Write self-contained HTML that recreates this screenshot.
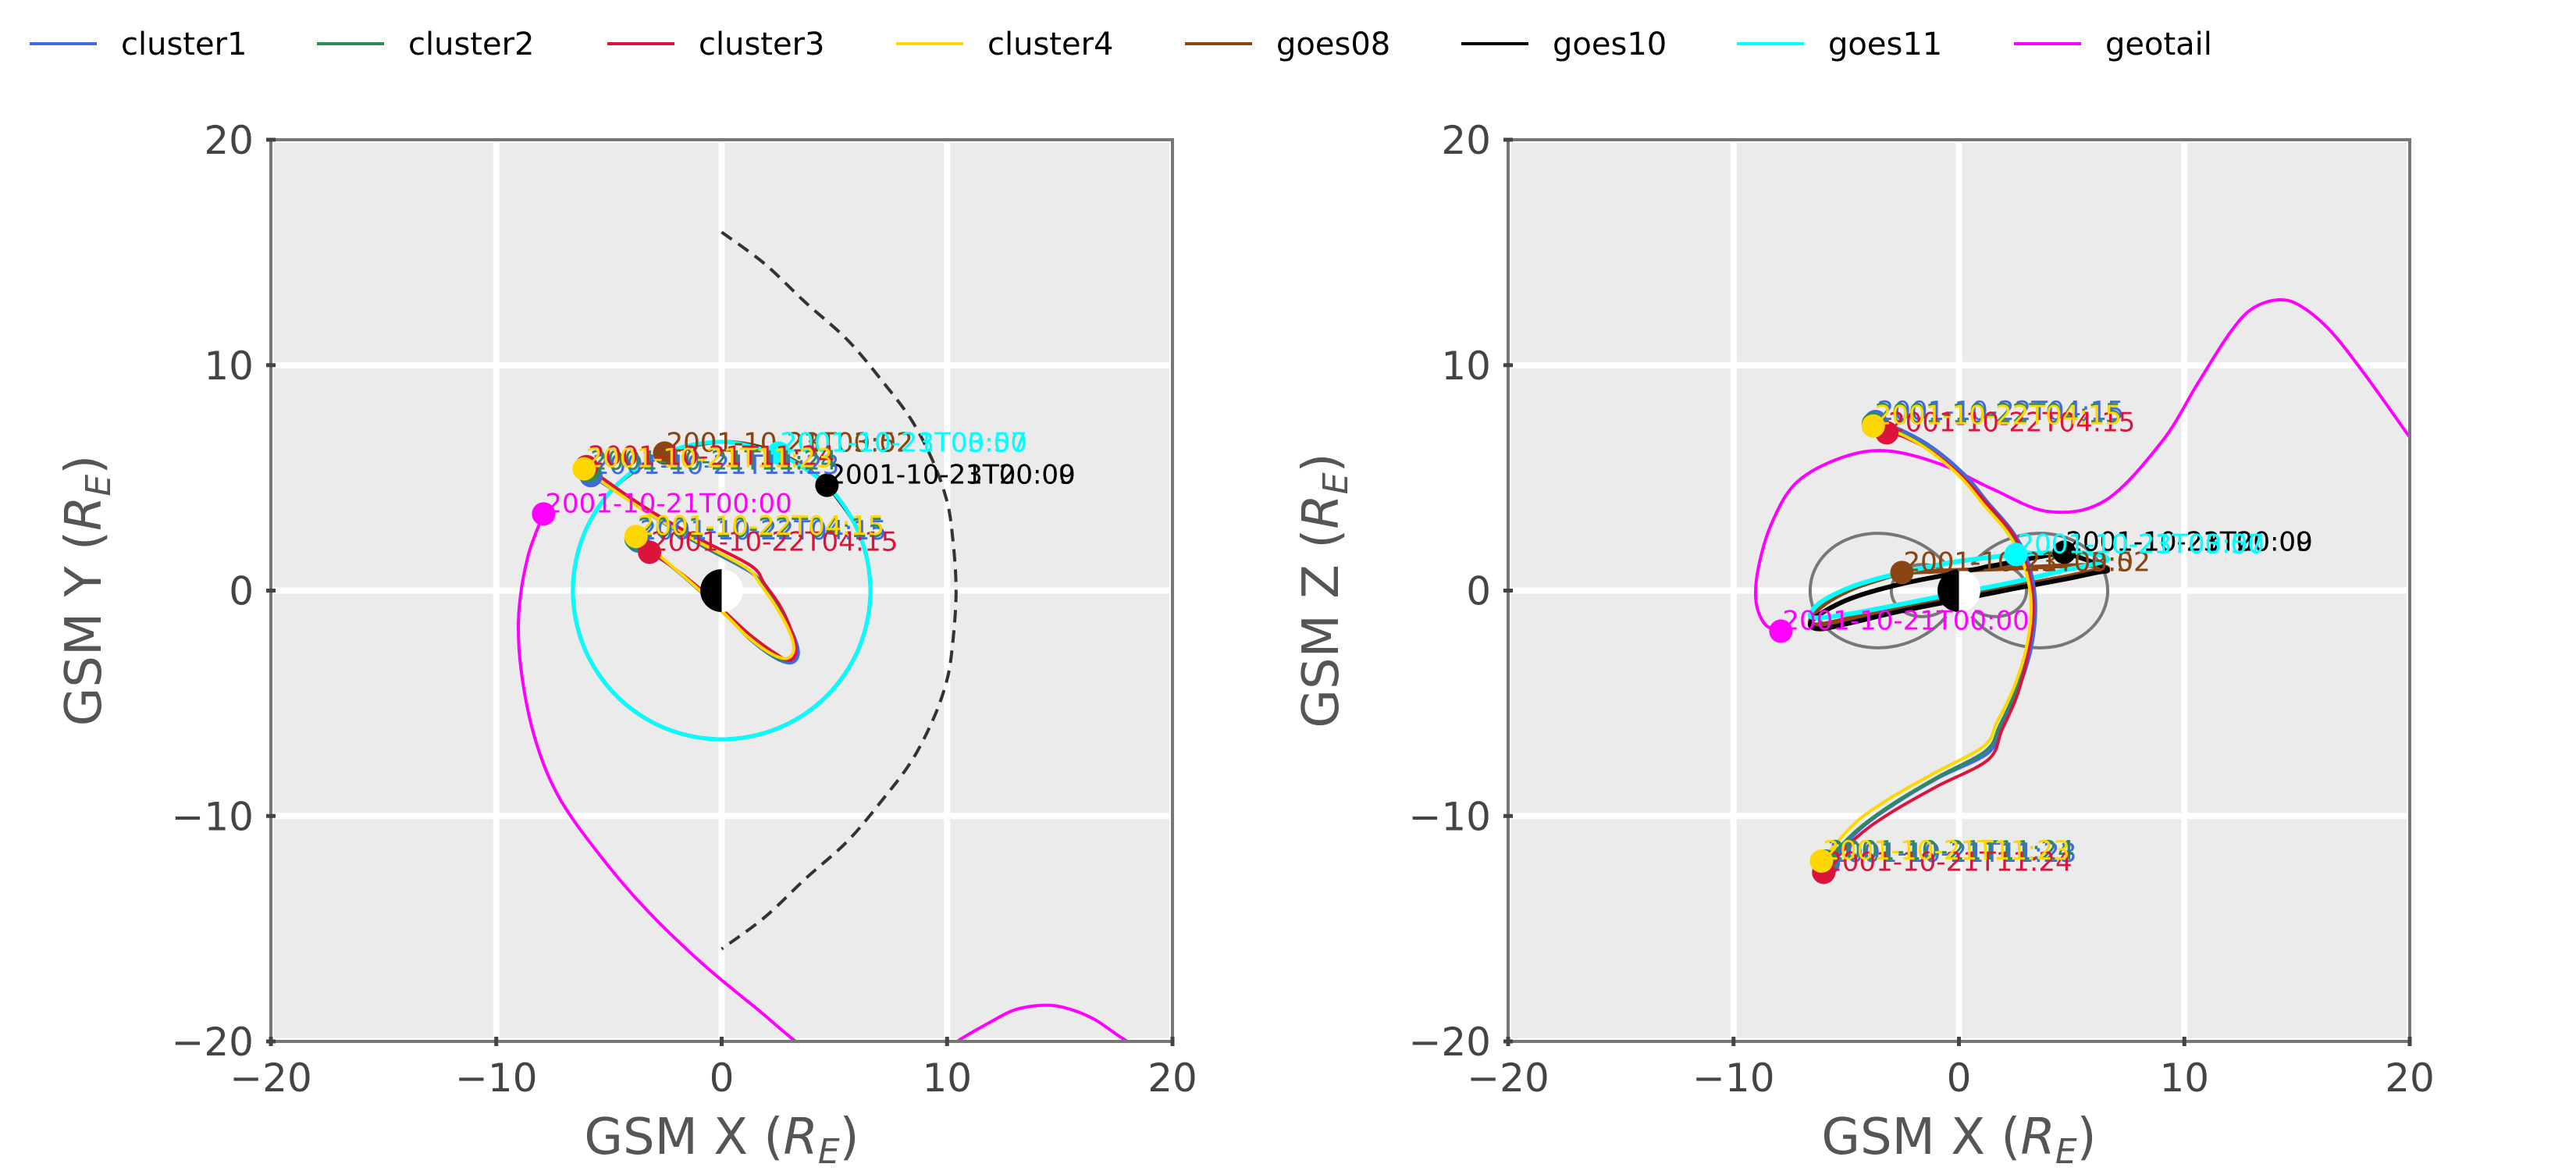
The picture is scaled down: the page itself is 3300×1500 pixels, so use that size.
<!DOCTYPE html>
<html><head><meta charset="utf-8"><style>
html,body{margin:0;padding:0;background:#fff}
svg{display:block}
text{font-family:"DejaVu Sans","Liberation Sans",sans-serif}
</style></head><body>
<svg id="fig" width="3300" height="1500" viewBox="0 0 3300 1500" xmlns="http://www.w3.org/2000/svg"></svg>
<script>
// ---- data (GSM coordinates, Earth radii) ----
const seriesNames = ["cluster1","cluster2","cluster3","cluster4","goes08","goes10","goes11","geotail"];
const seriesColors = ["#4169e1","#2e8b57","#dc143c","#ffd700","#8b4513","#000000","#00ffff","#ff00ff"];
const cluster1X = [-5.8,-4.4,-2.9,-0.9,1.3,1.9,2.6,3.2,3.4,3.1,2.4,1.3,0.3,-1.1,-2.5,-3.7];
const cluster1Y = [5.1,4.2,3.2,2.0,0.8,0.1,-0.9,-2.0,-2.8,-3.2,-3.0,-2.2,-1.2,0.1,1.3,2.2];
const cluster1Z = [-12.1,-10.6,-9.5,-8.3,-7.2,-6.0,-4.5,-2.6,-0.6,1.2,2.6,3.9,5.1,6.3,7.1,7.5];
const cluster2X = [-5.9,-4.5,-3.0,-1.0,1.2,1.8,2.5,3.1,3.3,3.0,2.3,1.2,0.2,-1.2,-2.6,-3.8];
const cluster2Y = [5.3,4.3,3.3,2.1,0.9,0.2,-0.8,-1.9,-2.7,-3.1,-2.9,-2.1,-1.1,0.2,1.4,2.3];
const cluster2Z = [-12.0,-10.6,-9.5,-8.3,-7.1,-6.0,-4.5,-2.6,-0.6,1.2,2.5,3.8,5.0,6.2,7.0,7.4];
const cluster3X = [-6.0,-4.6,-3.1,-1.0,1.3,1.9,2.6,3.1,3.3,3.0,2.4,1.3,0.2,-1.1,-2.4,-3.2];
const cluster3Y = [5.5,4.5,3.5,2.3,1.1,0.3,-0.7,-1.8,-2.7,-3.1,-2.8,-2.0,-1.0,0.2,1.2,1.7];
const cluster3Z = [-12.5,-11.0,-9.9,-8.7,-7.5,-6.2,-4.6,-2.6,-0.6,1.2,2.5,3.8,5.0,6.1,6.8,7.0];
const cluster4X = [-6.1,-4.7,-3.2,-1.1,1.1,1.7,2.4,3.0,3.2,2.9,2.2,1.1,0.1,-1.3,-2.7,-3.8];
const cluster4Y = [5.4,4.4,3.4,2.2,1.0,0.3,-0.7,-1.8,-2.6,-3.0,-2.8,-2.0,-1.0,0.3,1.5,2.4];
const cluster4Z = [-12.0,-10.4,-9.3,-8.1,-6.9,-5.8,-4.4,-2.5,-0.6,1.1,2.5,3.8,5.0,6.2,7.0,7.3];
const goes08X = [-2.53,-4.67,-6.1,-6.6,-6.1,-4.67,-2.53,0,2.53,4.67,6.1,6.6,6.1,4.67,2.53,0,-2.53];
const goes08Y = [6.1,4.67,2.53,0,-2.53,-4.67,-6.1,-6.6,-6.1,-4.67,-2.53,0,2.53,4.67,6.1,6.6,6.1];
const goes08Z = [0.8,0.1,-0.7,-1.4,-1.5,-1.2,-0.8,-0.3,0.2,0.6,0.9,1.0,1.1,1.1,1.0,0.9,0.8];
const goes10X = [4.67,2.53,0,-2.53,-4.67,-6.1,-6.6,-6.1,-4.67,-2.53,0,2.53,4.67,6.1,6.6,6.1,4.67];
const goes10Y = [4.67,6.1,6.6,6.1,4.67,2.53,0,-2.53,-4.67,-6.1,-6.6,-6.1,-4.67,-2.53,0,2.53,4.67];
const goes10Z = [1.7,1.3,0.8,0.3,-0.3,-1.0,-1.5,-1.7,-1.4,-0.9,-0.4,0.1,0.5,0.8,0.9,1.2,1.7];
const goes11X = [2.53,0,-2.53,-4.67,-6.1,-6.6,-6.1,-4.67,-2.53,0,2.53,4.67,6.1,6.6,6.1,4.67,2.53];
const goes11Y = [6.1,6.6,6.1,4.67,2.53,0,-2.53,-4.67,-6.1,-6.6,-6.1,-4.67,-2.53,0,2.53,4.67,6.1];
const goes11Z = [1.6,1.3,0.8,0.2,-0.5,-1.1,-1.2,-1.0,-0.6,-0.1,0.4,0.9,1.2,1.4,1.6,1.7,1.6];
const geotailX = [-7.9,-8.6,-9.0,-8.9,-8.3,-7.2,-5.2,-3.2,-0.8,1.5,4.0,6.5,9.0,10.6,12.0,13.0,14.2,15.2,16.5,18.0,20.0];
const geotailY = [3.4,1.5,-1.0,-3.5,-6.5,-9.2,-12.0,-14.3,-16.6,-18.5,-20.5,-21.5,-21.0,-19.9,-19.1,-18.6,-18.4,-18.5,-19.0,-20.0,-21.0];
const geotailZ = [-1.8,-1.5,-0.5,1.0,3.0,4.8,5.9,6.2,5.6,4.5,3.5,4.0,6.6,9.2,11.4,12.5,12.9,12.6,11.5,9.6,6.8];
const startLabels = ["2001-10-21T11:23","2001-10-21T11:24","2001-10-21T11:24","2001-10-21T11:23","2001-10-21T03:52","2001-10-21T20:09","2001-10-21T03:57","2001-10-21T00:00"];
const endLabels = ["2001-10-22T04:15","2001-10-22T04:15","2001-10-22T04:15","2001-10-22T04:15","2001-10-23T00:02","2001-10-23T00:00","2001-10-23T00:00",""];
const magnetopauseX = [0,1.9,3.7,5.6,7.2,8.4,9.3,9.9,10.2,10.4,10.2,9.9,9.3,8.4,7.2,5.6,3.7,1.9,0];
const magnetopauseY = [15.9,14.5,12.8,11.1,9.2,7.6,5.9,4.3,2.8,0,-2.8,-4.3,-5.9,-7.6,-9.2,-11.1,-12.8,-14.5,-15.9];
const dipoleL = [3.0,6.6];
const tickValues = [-20,-10,0,10,20];
const tickLabels = ["\u221220","\u221210","0","10","20"];

const allX=[cluster1X,cluster2X,cluster3X,cluster4X,goes08X,goes10X,goes11X,geotailX];
const allY=[cluster1Y,cluster2Y,cluster3Y,cluster4Y,goes08Y,goes10Y,goes11Y,geotailY];
const allZ=[cluster1Z,cluster2Z,cluster3Z,cluster4Z,goes08Z,goes10Z,goes11Z,geotailZ];

const NS="http://www.w3.org/2000/svg";
const svg=document.getElementById('fig');
function mk(tag,attrs,parent){const e=document.createElementNS(NS,tag);for(const k in attrs)e.setAttribute(k,attrs[k]);(parent||svg).appendChild(e);return e;}

const AX=[{left:347,name:'xy-panel',ylab:'GSM Y (',yi:1},{left:1932,name:'xz-panel',ylab:'GSM Z (',yi:2}];
const TOP=179,SIZE=1155;
function sx(p,v){return p.left+(v+20)/40*SIZE;}
function sy(v){return TOP+(20-v)/40*SIZE;}
function smooth(pts){
  if(pts.length<2)return '';
  let d='M'+pts[0][0].toFixed(1)+','+pts[0][1].toFixed(1);
  for(let i=0;i<pts.length-1;i++){
    const p0=pts[Math.max(0,i-1)],p1=pts[i],p2=pts[i+1],p3=pts[Math.min(pts.length-1,i+2)];
    const c1=[p1[0]+(p2[0]-p0[0])/6,p1[1]+(p2[1]-p0[1])/6],c2=[p2[0]-(p3[0]-p1[0])/6,p2[1]-(p3[1]-p1[1])/6];
    d+='C'+c1[0].toFixed(1)+','+c1[1].toFixed(1)+' '+c2[0].toFixed(1)+','+c2[1].toFixed(1)+' '+p2[0].toFixed(1)+','+p2[1].toFixed(1);
  }
  return d;
}

// legend
const legX=[38,406,778,1148,1518,1872,2225,2580];
const legend=mk('g',{});


seriesNames.forEach((n,i)=>{
  const g=mk('g',{},legend);
  
  
  mk('line',{x1:legX[i],x2:legX[i]+86,y1:56,y2:56,stroke:seriesColors[i],'stroke-width':4},g);
  const t=mk('text',{x:legX[i]+117,y:70,'font-size':40,fill:'#000'},g);t.textContent=n;
});

const defs=mk('defs',{});
AX.forEach((p,pi)=>{
  const g=mk('g',{});
  
  
  const cp=mk('clipPath',{id:'clip'+pi},defs);
  mk('rect',{x:p.left,y:TOP,width:SIZE,height:SIZE},cp);
  mk('rect',{x:p.left,y:TOP,width:SIZE,height:SIZE,fill:'#ebebeb'},g);
  tickValues.forEach(v=>{
    mk('line',{x1:sx(p,v),x2:sx(p,v),y1:TOP,y2:TOP+SIZE,stroke:'#fff','stroke-width':8},g);
    mk('line',{x1:p.left,x2:p.left+SIZE,y1:sy(v),y2:sy(v),stroke:'#fff','stroke-width':8},g);
  });
  const inner=mk('g',{'clip-path':'url(#clip'+pi+')'},g);
  if(pi===0){
    const pts=magnetopauseX.map((x,i)=>[sx(p,x),sy(magnetopauseY[i])]);
    const mp=mk('path',{d:smooth(pts),fill:'none',stroke:'#333','stroke-width':4,'stroke-dasharray':'16,10'},inner);
    
    
  } else {
    dipoleL.forEach(L=>{
      [1,-1].forEach(side=>{
        const pts=[];
        for(let a=-80;a<=80;a+=4){const r=L*Math.pow(Math.cos(a*Math.PI/180),2);if(r<1)continue;pts.push([sx(p,side*r*Math.cos(a*Math.PI/180)),sy(r*Math.sin(a*Math.PI/180))]);}
        const dp=mk('path',{d:smooth(pts),fill:'none',stroke:'#777','stroke-width':4},inner);
        
        
      });
    });
  }
  const order=[7,4,5,6,0,1,2,3];
  order.forEach(i=>{
    const X=allX[i],V=pi===0?allY[i]:allZ[i];
    const pts=X.map((x,k)=>[sx(p,x),sy(V[k])]);
    const w=i>=4&&i<=6?(pi===0?(i===5?3:5):6):4;
    const path=mk('path',{d:smooth(pts),fill:'none',stroke:seriesColors[i],'stroke-width':w},inner);
    
    
  });
  const ex=sx(p,0),ey=sy(0),er=SIZE/40*0.95;
  const earth=mk('g',{},g);
  
  
  mk('path',{d:`M${ex},${ey-er}A${er},${er} 0 0 0 ${ex},${ey+er}Z`,fill:'#000'},earth);
  mk('path',{d:`M${ex},${ey-er}A${er},${er} 0 0 1 ${ex},${ey+er}Z`,fill:'#fff'},earth);
  order.forEach(i=>{
    const X=allX[i],V=pi===0?allY[i]:allZ[i];
    const ends=[[0,startLabels[i]]];
    if(i<4) ends.push([X.length-1,endLabels[i]]);
    ends.forEach(([k,lab])=>{
      const mx=sx(p,X[k]),my=sy(V[k]);
      const m=mk('circle',{cx:mx,cy:my,r:15,fill:seriesColors[i]},g);
      
      
      const t=mk('text',{x:mx+2,y:my-2,'font-size':34,fill:seriesColors[i]},g);t.textContent=lab;
      
      
      if(i>=4&&i<=6){const t2=mk('text',{x:mx+2,y:my-2,'font-size':34,fill:seriesColors[i]},g);t2.textContent=endLabels[i];
        
        }
    });
  });
  mk('rect',{x:p.left,y:TOP,width:SIZE,height:SIZE,fill:'none',stroke:'#777','stroke-width':4},g);
  tickValues.forEach((v,ti)=>{
    mk('line',{x1:sx(p,v),x2:sx(p,v),y1:TOP+SIZE-6,y2:TOP+SIZE+6,stroke:'#444','stroke-width':5},g);
    mk('line',{x1:p.left-6,x2:p.left+6,y1:sy(v),y2:sy(v),stroke:'#444','stroke-width':5},g);
    const tx=mk('text',{x:sx(p,v),y:1398,'font-size':50,fill:'#444','text-anchor':'middle'},g);tx.textContent=tickLabels[ti];
    
    
    const ty=mk('text',{x:p.left-22,y:sy(v)+18,'font-size':50,fill:'#444','text-anchor':'end'},g);ty.textContent=tickLabels[ti];
    
    
  });
  const xl=mk('text',{x:p.left+SIZE/2,y:1478,'font-size':64,fill:'#555','text-anchor':'middle'},g);
  xl.innerHTML='GSM X (<tspan font-style="italic">R</tspan><tspan font-style="italic" font-size="44" dy="12">E</tspan><tspan dy="-12">)</tspan>';
  
  
  const yl=mk('text',{x:0,y:0,'font-size':64,fill:'#555','text-anchor':'middle',transform:`translate(${p.left-218},${TOP+SIZE/2}) rotate(-90)`},g);
  yl.innerHTML=p.ylab+'<tspan font-style="italic">R</tspan><tspan font-style="italic" font-size="44" dy="12">E</tspan><tspan dy="-12">)</tspan>';
  
  
});
</script>
</body></html>
